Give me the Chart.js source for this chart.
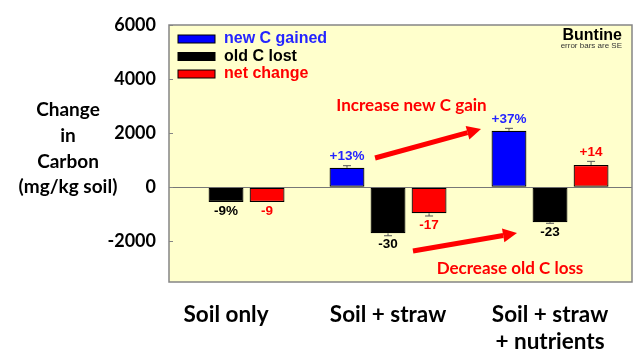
<!DOCTYPE html>
<html>
<head>
<meta charset="utf-8">
<script src="https://cdn.jsdelivr.net/npm/chart.js@4.4.1/dist/chart.umd.min.js"></script>
<style>
  body { margin: 0; background: #fff; }
</style>
</head>
<body>
<canvas id="carbonChart" width="640" height="351"></canvas>
<script>
// data
const categories = [['Soil only'], ['Soil + straw'], ['Soil + straw', '+ nutrients']];
const seriesNames = ['new C gained', 'old C lost', 'net change'];
const newCGained = [null, 720, 2090];
const oldCLost = [-540, -1700, -1290];
const netChange = [-540, -960, 825];
const newCErr = [0, 80, 90];
const oldCErr = [0, 90, 40];
const netErr = [0, 100, 135];
const newCLabels = ['', '+13%', '+37%'];
const oldCLabels = ['-9%', '-30', '-23'];
const netLabels = ['-9', '-17', '+14'];
const yTicks = [-2000, 0, 2000, 4000, 6000];

const toPoints = arr => arr.map((v, i) => ({x: i, y: v}));

const ctx = document.getElementById('carbonChart').getContext('2d');
Chart.defaults.font.family = 'Lato';

// annotations in data units
const notes = [
  {text: 'Increase new C gain', x: 1.145, y: 3040},
  {text: 'Decrease old C loss', x: 1.753, y: -3020}
];
const arrows = [
  {from: [0.92, 1083], to: [1.574, 2155]},
  {from: [1.154, -2355], to: [1.796, -1690]}
];

const plotBox = {
  id: 'plotBox',
  beforeDraw(chart) {
    const {ctx, chartArea: a} = chart;
    ctx.save();
    ctx.fillStyle = '#FFFFCC';
    ctx.fillRect(a.left, a.top, a.right - a.left, a.bottom - a.top);
    ctx.restore();
  },
  afterDraw(chart) {
    const {ctx, chartArea: a, scales} = chart;
    ctx.save();
    ctx.strokeStyle = '#858585';
    ctx.lineWidth = 1.5;
    ctx.strokeRect(a.left, a.top, a.right - a.left, a.bottom - a.top);
    // small inward tick marks
    ctx.lineWidth = 1;
    yTicks.forEach(t => {
      const y = Math.round(scales.y.getPixelForValue(t)) + 0.5;
      ctx.beginPath();
      ctx.moveTo(a.left, y);
      ctx.lineTo(a.left + 4, y);
      ctx.stroke();
    });

    // y title
    ctx.fillStyle = '#000';
    ctx.font = 'bold 19px Lato';
    ctx.textAlign = 'center';
    ctx.textBaseline = 'middle';
    ['Change', 'in', 'Carbon', '(mg/kg soil)'].forEach((s, i) => {
      ctx.fillText(s, 68, 110 + i * 25.7);
    });

    // legend
    ctx.textAlign = 'left';
    ctx.font = 'bold 16px "Liberation Sans"';
    chart.data.datasets.forEach((ds, i) => {
      const y = a.top + 14 + i * 17.5;
      ctx.fillStyle = ds.backgroundColor;
      ctx.fillRect(a.left + 9, y - 4, 37, 8);
      ctx.strokeStyle = '#000';
      ctx.strokeRect(a.left + 9, y - 4, 37, 8);
      ctx.fillStyle = ds.labelColor;
      ctx.fillText(ds.label, a.left + 55, y);
    });

    // site note
    ctx.textAlign = 'right';
    ctx.fillStyle = '#000';
    ctx.font = 'bold 16px "Liberation Sans"';
    ctx.fillText('Buntine', a.right - 10, a.top + 11);
    ctx.font = '8px "Liberation Sans"';
    ctx.fillStyle = '#333';
    ctx.fillText('error bars are SE', a.right - 10, a.top + 21);
    ctx.restore();
  }
};

const barExtras = {
  id: 'barExtras',
  afterDatasetsDraw(chart) {
    const {ctx, scales} = chart;
    const y = scales.y, x = scales.x;
    ctx.save();
    chart.data.datasets.forEach((ds, d) => {
      const meta = chart.getDatasetMeta(d);
      ds.data.forEach((p, i) => {
        if (p.y === null) return;
        const bar = meta.data[i];
        const dir = p.y >= 0 ? 1 : -1;
        const end = y.getPixelForValue(p.y);
        const tip = y.getPixelForValue(p.y + dir * ds.errors[i]);
        if (ds.errors[i] > 0) {
          ctx.strokeStyle = '#555';
          ctx.lineWidth = 1;
          ctx.beginPath();
          ctx.moveTo(bar.x, end);
          ctx.lineTo(bar.x, tip);
          ctx.moveTo(bar.x - 4, tip);
          ctx.lineTo(bar.x + 4, tip);
          ctx.stroke();
        }
        const txt = ds.valueLabels[i];
        if (txt) {
          ctx.fillStyle = ds.labelColor;
          ctx.font = 'bold 13.5px "Liberation Sans"';
          ctx.textAlign = 'center';
          ctx.textBaseline = 'middle';
          ctx.fillText(txt, bar.x, tip - dir * 9);
        }
      });
    });

    // arrows
    ctx.fillStyle = '#FF0000';
    ctx.strokeStyle = '#FF0000';
    arrows.forEach(ar => {
      const x1 = x.getPixelForValue(ar.from[0]), y1 = y.getPixelForValue(ar.from[1]);
      const x2 = x.getPixelForValue(ar.to[0]), y2 = y.getPixelForValue(ar.to[1]);
      const ang = Math.atan2(y2 - y1, x2 - x1);
      const head = 14, half = 7;
      const bx = x2 - head * Math.cos(ang), by = y2 - head * Math.sin(ang);
      ctx.lineWidth = 5;
      ctx.beginPath();
      ctx.moveTo(x1, y1);
      ctx.lineTo(bx, by);
      ctx.stroke();
      ctx.beginPath();
      ctx.moveTo(x2, y2);
      ctx.lineTo(bx + half * Math.sin(ang), by - half * Math.cos(ang));
      ctx.lineTo(bx - half * Math.sin(ang), by + half * Math.cos(ang));
      ctx.closePath();
      ctx.fill();
    });

    ctx.font = 'bold 17px Lato';
    ctx.textAlign = 'center';
    ctx.textBaseline = 'middle';
    notes.forEach(n => {
      ctx.fillText(n.text, x.getPixelForValue(n.x), y.getPixelForValue(n.y));
    });
    ctx.restore();
  }
};

const barStyle = {borderColor: '#000', borderWidth: 1.2, borderSkipped: false};

let chart = new Chart(ctx, {
  type: 'bar',
  data: {
    datasets: [
      {label: seriesNames[0], data: toPoints(newCGained), backgroundColor: '#0000FF', labelColor: '#2424FF',
       errors: newCErr, valueLabels: newCLabels, ...barStyle},
      {label: seriesNames[1], data: toPoints(oldCLost), backgroundColor: '#000000', labelColor: '#000000',
       errors: oldCErr, valueLabels: oldCLabels, ...barStyle},
      {label: seriesNames[2], data: toPoints(netChange), backgroundColor: '#FF0000', labelColor: '#FF0000',
       errors: netErr, valueLabels: netLabels, ...barStyle}
    ]
  },
  options: {
    responsive: false,
    animation: false,
    categoryPercentage: 0.76,
    barPercentage: 0.85,
    layout: {padding: {top: 25, right: 8, left: 0, bottom: 0}},
    plugins: {legend: {display: false}, tooltip: {enabled: false}},
    scales: {
      x: {
        type: 'linear',
        offset: false,
        min: -0.352,
        max: 2.506,
        grid: {display: false},
        border: {display: false},
        afterBuildTicks: s => { s.ticks = categories.map((_, i) => ({value: i})); },
        afterFit: s => { s.height = 69; },
        ticks: {
          autoSkip: false,
          maxRotation: 0,
          padding: 11,
          color: '#000',
          font: {size: 22.5, weight: 'bold', family: 'Lato'},
          callback: v => categories[v] || ''
        }
      },
      y: {
        min: -3500,
        max: 6000,
        afterBuildTicks: s => { s.ticks = yTicks.map(v => ({value: v})); },
        afterFit: s => { s.width = 169; },
        border: {display: false},
        grid: {
          drawTicks: false,
          color: c => (c.tick && c.tick.value === 0) ? '#777' : 'rgba(0,0,0,0)',
          lineWidth: 1
        },
        ticks: {
          padding: 13,
          color: '#000',
          font: {size: 18, weight: 'bold', family: 'Lato'},
          callback: v => String(v)
        }
      }
    }
  },
  plugins: [plotBox, barExtras]
});
</script>
</body>
</html>
